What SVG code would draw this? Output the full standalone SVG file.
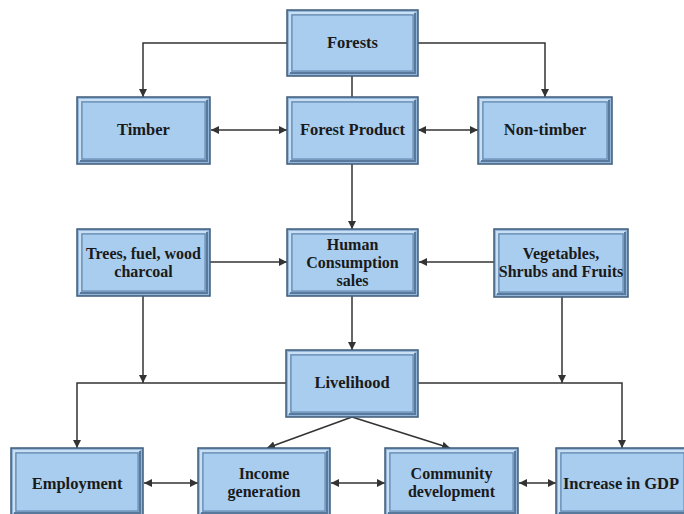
<svg xmlns="http://www.w3.org/2000/svg" width="684" height="514" viewBox="0 0 684 514">
<defs>
<marker id="ah" viewBox="0 0 10 10" refX="10" refY="5" markerWidth="8" markerHeight="8" markerUnits="userSpaceOnUse" orient="auto-start-reverse">
<path d="M0,0 L10,5 L0,10 z" fill="#333"/>
</marker>
<style>
.o{fill:#93b7da;stroke:#3e5b7a;stroke-width:1.5}
.i{fill:#a9cdee;stroke:#5c80a6;stroke-width:1}
.hl{fill:none;stroke:#c9e0f4;stroke-width:2}
.sh{fill:none;stroke:#58799c;stroke-width:2}
.t{font-family:"Liberation Serif","Times New Roman",serif;font-weight:bold;font-size:16.5px;fill:#1a1a1a;text-anchor:middle}
.m{font-size:16px}
.c{fill:none;stroke:#333;stroke-width:1.5}
.a{marker-end:url(#ah)}
.b{marker-start:url(#ah);marker-end:url(#ah)}
</style>
</defs>
<rect width="684" height="514" fill="#fff"/>
<g id="connectors">
<path class="c a" d="M287,43 H143 V97"/>
<path class="c a" d="M418,43 H545 V97"/>
<path class="c" d="M352,76 V97"/>
<path class="c b" d="M211,130 H287"/>
<path class="c b" d="M418,130 H478"/>
<path class="c a" d="M352,164 V229"/>
<path class="c a" d="M210,262 H287"/>
<path class="c a" d="M494,262 H419"/>
<path class="c a" d="M352,296 V350"/>
<path class="c a" d="M143,296 V383"/>
<path class="c a" d="M286,383 H77 V448"/>
<path class="c a" d="M562,297 V383"/>
<path class="c a" d="M418,383 H622 V448"/>
<path class="c a" d="M352,417 L267,448"/>
<path class="c a" d="M352,417 L450,448"/>
<path class="c b" d="M144,483 H198"/>
<path class="c b" d="M331,483 H385"/>
<path class="c b" d="M519,483 H556"/>
</g>
<g id="forests">
<rect class="o" x="287" y="10" width="131" height="66"/><path class="hl" d="M290,73 V13 H415"/><path class="sh" d="M290,73 H415 V13"/><rect class="i" x="292" y="15" width="121" height="56"/>
<text class="t" x="352.5" y="48">Forests</text>
</g>
<g id="timber">
<rect class="o" x="77" y="97" width="133" height="67"/><path class="hl" d="M80,161 V100 H207"/><path class="sh" d="M80,161 H207 V100"/><rect class="i" x="82" y="102" width="123" height="57"/>
<text class="t" x="143.5" y="135">Timber</text>
</g>
<g id="forest-product">
<rect class="o" x="287" y="97" width="131" height="67"/><path class="hl" d="M290,161 V100 H415"/><path class="sh" d="M290,161 H415 V100"/><rect class="i" x="292" y="102" width="121" height="57"/>
<text class="t" x="352.5" y="135">Forest Product</text>
</g>
<g id="non-timber">
<rect class="o" x="478" y="97" width="134" height="67"/><path class="hl" d="M481,161 V100 H609"/><path class="sh" d="M481,161 H609 V100"/><rect class="i" x="483" y="102" width="124" height="57"/>
<text class="t" x="545" y="135">Non-timber</text>
</g>
<g id="trees">
<rect class="o" x="77" y="229" width="133" height="67"/><path class="hl" d="M80,293 V232 H207"/><path class="sh" d="M80,293 H207 V232"/><rect class="i" x="82" y="234" width="123" height="57"/>
<text class="t m" x="143.5" y="259">Trees, fuel, wood</text>
<text class="t m" x="143.5" y="277">charcoal</text>
</g>
<g id="human-consumption">
<rect class="o" x="287" y="229" width="131" height="67"/><path class="hl" d="M290,293 V232 H415"/><path class="sh" d="M290,293 H415 V232"/><rect class="i" x="292" y="234" width="121" height="57"/>
<text class="t m" x="352.5" y="250">Human</text>
<text class="t m" x="352.5" y="268">Consumption</text>
<text class="t m" x="352.5" y="286">sales</text>
</g>
<g id="vegetables">
<rect class="o" x="494" y="229" width="134" height="68"/><path class="hl" d="M497,294 V232 H625"/><path class="sh" d="M497,294 H625 V232"/><rect class="i" x="499" y="234" width="124" height="58"/>
<text class="t m" x="561" y="259">Vegetables,</text>
<text class="t m" x="561" y="277">Shrubs and Fruits</text>
</g>
<g id="livelihood">
<rect class="o" x="286" y="350" width="132" height="67"/><path class="hl" d="M289,414 V353 H415"/><path class="sh" d="M289,414 H415 V353"/><rect class="i" x="291" y="355" width="122" height="57"/>
<text class="t" x="352" y="388">Livelihood</text>
</g>
<g id="employment">
<rect class="o" x="11" y="448" width="132" height="68"/><path class="hl" d="M14,513 V451 H140"/><path class="sh" d="M14,513 H140 V451"/><rect class="i" x="16" y="453" width="122" height="58"/>
<text class="t" x="77" y="489">Employment</text>
</g>
<g id="income-generation">
<rect class="o" x="198" y="448" width="132" height="68"/><path class="hl" d="M201,513 V451 H327"/><path class="sh" d="M201,513 H327 V451"/><rect class="i" x="203" y="453" width="122" height="58"/>
<text class="t m" x="264" y="479">Income</text>
<text class="t m" x="264" y="497">generation</text>
</g>
<g id="community-development">
<rect class="o" x="385" y="448" width="133" height="68"/><path class="hl" d="M388,513 V451 H515"/><path class="sh" d="M388,513 H515 V451"/><rect class="i" x="390" y="453" width="123" height="58"/>
<text class="t m" x="451.5" y="479">Community</text>
<text class="t m" x="451.5" y="497">development</text>
</g>
<g id="increase-gdp">
<rect class="o" x="556" y="448" width="133" height="68"/><path class="hl" d="M559,513 V451 H686"/><path class="sh" d="M559,513 H686 V451"/><rect class="i" x="561" y="453" width="123" height="58"/>
<text class="t" x="621" y="489">Increase in GDP</text>
</g>
</svg>
